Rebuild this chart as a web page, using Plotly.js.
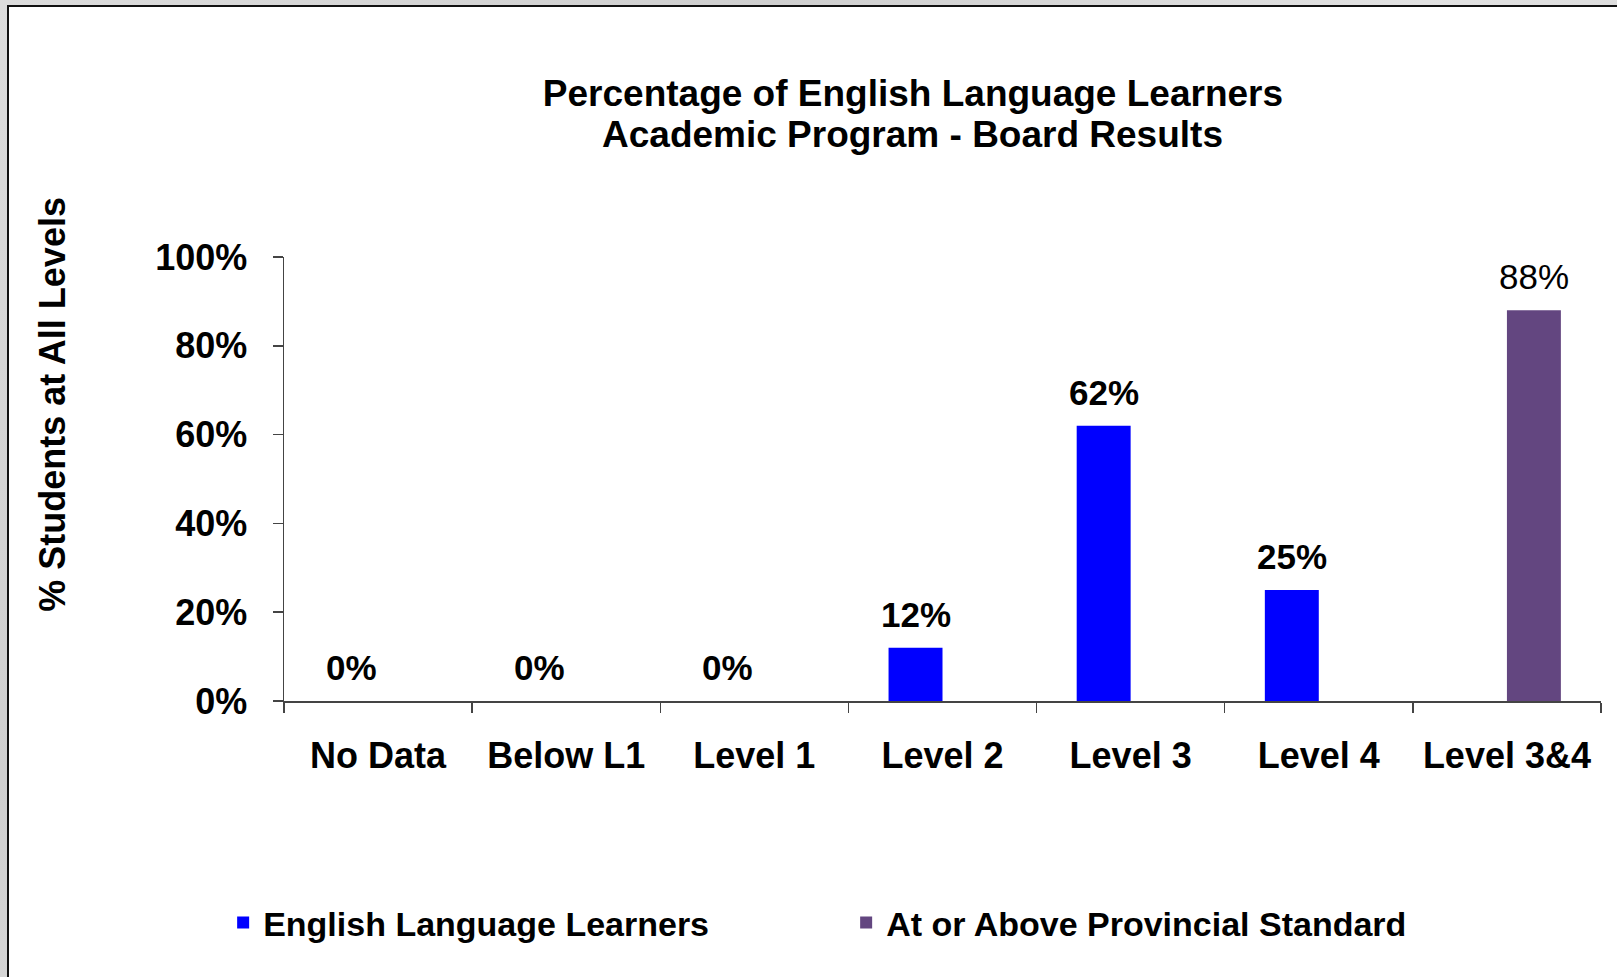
<!DOCTYPE html>
<html>
<head>
<meta charset="utf-8">
<script src="https://cdn.plot.ly/plotly-3.0.1.min.js"></script>
<style>
  html, body { margin: 0; padding: 0; width: 1617px; height: 977px; overflow: hidden;
    background: linear-gradient(135deg, #dcdcdc 0%, #cfcfcf 30%, #e2e2e2 55%, #d2d2d2 80%, #dadada 100%); }
  #panel { position: absolute; left: 7px; top: 5px; width: 1620px; height: 980px;
    background: #ffffff; border-left: 2px solid #111; border-top: 2px solid #111; box-sizing: border-box; }
  #chart { position: absolute; left: 0; top: 0; width: 1617px; height: 977px; }
</style>
</head>
<body>
<div id="panel"></div>
<div id="chart"></div>
<script>
const categories = ['No Data', 'Below L1', 'Level 1', 'Level 2', 'Level 3', 'Level 4', 'Level 3&4'];
const ellValues = [0, 0, 0, 0.12, 0.62, 0.25, null];
const standardValues = [null, null, null, null, null, null, 0.88];
const seriesNames = ['English Language Learners', 'At or Above Provincial Standard'];
const yTickVals = [0, 0.2, 0.4, 0.6, 0.8, 1.0];
const titleLines = ['Percentage of English Language Learners', 'Academic Program - Board Results'];
const yTitle = '% Students at All Levels';

const FONT = 'Liberation Sans, Arial, Helvetica, sans-serif';
const ELL_COLOR = '#0000ff';
const STD_COLOR = '#634680';
const AXIS_COLOR = '#444444';

const traces = [
  { type: 'bar', name: seriesNames[0], x: categories, y: ellValues,
    marker: { color: ELL_COLOR, line: { width: 0 } }, hoverinfo: 'x+y' },
  { type: 'bar', name: seriesNames[1], x: categories, y: standardValues,
    marker: { color: STD_COLOR, line: { width: 0 } }, hoverinfo: 'x+y' }
];

const pct = v => Math.round(v * 100) + '%';
const annotations = [];
ellValues.forEach((v, i) => {
  if (v !== null) annotations.push({ x: categories[i], y: v, xref: 'x', yref: 'y', text: pct(v),
    showarrow: false, yanchor: 'bottom', xshift: -27, yshift: 12,
    font: { family: FONT, size: 35, color: '#000', weight: 'bold' } });
});
standardValues.forEach((v, i) => {
  if (v !== null) annotations.push({ x: categories[i], y: v, xref: 'x', yref: 'y', text: pct(v),
    showarrow: false, yanchor: 'bottom', xshift: 27, yshift: 12,
    font: { family: FONT, size: 35, color: '#000', weight: 'normal' } });
});
annotations.push({ xref: 'paper', yref: 'paper', x: -0.176, y: 0.6675, text: yTitle,
  textangle: -90, showarrow: false, xanchor: 'center', yanchor: 'middle',
  font: { family: FONT, size: 36, color: '#000', weight: 'bold' } });
annotations.push({ xref: 'paper', yref: 'paper', x: 0.4773, y: 1.2765, text: titleLines[1],
  showarrow: false, xanchor: 'center', yanchor: 'middle',
  font: { family: FONT, size: 37, color: '#000', weight: 'bold' } });

const layout = {
  width: 1617, height: 977,
  margin: { l: 284, r: 16, t: 257, b: 276, pad: 0 },
  paper_bgcolor: 'rgba(0,0,0,0)', plot_bgcolor: 'rgba(0,0,0,0)',
  barmode: 'group', bargap: 0.4265, bargroupgap: 0,
  font: { family: FONT, color: '#000' },
  title: { text: titleLines[0], xref: 'container', yref: 'container',
    x: 0.5646, xanchor: 'center', y: 1 - 93 / 977, yanchor: 'middle',
    font: { family: FONT, size: 37, color: '#000', weight: 'bold' } },
  xaxis: { type: 'category', showline: true, linecolor: AXIS_COLOR, linewidth: 1.5,
    ticks: 'outside', tickson: 'boundaries', ticklen: 10, tickcolor: AXIS_COLOR, tickwidth: 1.5,
    showgrid: false, zeroline: false, ticklabelstandoff: 22,
    tickfont: { family: FONT, size: 36, color: '#000', weight: 'bold' } },
  yaxis: { range: [0, 1], showline: true, linecolor: AXIS_COLOR, linewidth: 1.5,
    ticks: 'outside', ticklen: 10, tickcolor: AXIS_COLOR, tickwidth: 1.5,
    tickvals: yTickVals, tickformat: '.0%', showgrid: false, zeroline: false,
    ticklabelstandoff: 18,
    tickfont: { family: FONT, size: 36, color: '#000', weight: 'bold' } },
  showlegend: true,
  legend: { orientation: 'h', xref: 'container', yref: 'container', x: 0.138, xanchor: 'left',
    y: 0.0553, yanchor: 'middle', entrywidth: 578, entrywidthmode: 'pixels',
    bgcolor: 'rgba(0,0,0,0)', font: { family: FONT, size: 34, color: '#000', weight: 'bold' } },
  annotations: annotations
};

Plotly.newPlot('chart', traces, layout, { displayModeBar: false, staticPlot: true });
</script>
</body>
</html>
